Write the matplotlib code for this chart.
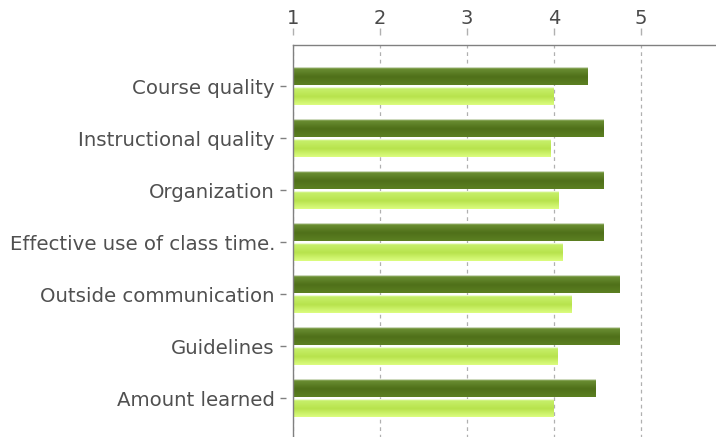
import numpy as np
import matplotlib
matplotlib.use("Agg")
import matplotlib.pyplot as plt

categories = ["Course quality", "Instructional quality", "Organization",
              "Effective use of class time.", "Outside communication",
              "Guidelines", "Amount learned"]
series_dark = [4.38, 4.57, 4.57, 4.57, 4.75, 4.75, 4.47]
series_light = [3.99, 3.96, 4.05, 4.10, 4.20, 4.04, 3.99]
x_ticks = [1, 2, 3, 4, 5]

fig = plt.figure(figsize=(7.16, 4.37), dpi=100)
ax = fig.add_axes([293/716, -0.005, 1 - 293/716, 1 - 45/437 + 0.005])

n = len(categories)
y = np.arange(n)
h = 0.35
off = 0.19

def profile(top_line, hi, c0, cm, c1, rows=36):
    arr = np.zeros((rows, 1, 3))
    arr[0:2, 0] = top_line
    arr[2:4, 0] = hi
    body = rows - 4
    for i in range(body):
        t = i / (body - 1)
        if t < 0.5:
            u = t / 0.5
            c = np.array(c0) * (1 - u) + np.array(cm) * u
        else:
            u = (t - 0.5) / 0.5
            c = np.array(cm) * (1 - u) + np.array(c1) * u
        arr[4 + i, 0] = c
    return arr

dark_img = profile((0.50, 0.58, 0.42), (0.90, 0.93, 0.85),
                   (0.42, 0.56, 0.20), (0.31, 0.44, 0.10), (0.36, 0.50, 0.13))
light_img = profile((0.80, 0.90, 0.62), (0.97, 1.0, 0.90),
                    (0.78, 0.94, 0.42), (0.72, 0.89, 0.30), (0.86, 0.99, 0.50))

def draw(vals, pos, img):
    bars = ax.barh(pos, np.array(vals) - 1, left=1, height=h,
                   color="none", edgecolor="none", zorder=3)
    for b, v, p in zip(bars, vals, pos):
        im = ax.imshow(img, extent=[1, v, p + h/2, p - h/2], origin="upper",
                       aspect="auto", interpolation="bilinear", zorder=3)
        im.set_clip_path(b)

draw(series_dark, y - off, dark_img)
draw(series_light, y + off, light_img)

ax.set_xlim(1, 5.86)
ax.set_ylim(6.79, -0.79)
ax.set_aspect("auto")

ax.xaxis.tick_top()
ax.set_xticks(x_ticks)
ax.set_xticklabels([str(t) for t in x_ticks])
ax.set_yticks(y)
ax.set_yticklabels(categories)

for s in ["right", "bottom"]:
    ax.spines[s].set_visible(False)
ax.spines["left"].set_position(("outward", 5))
ax.spines["top"].set_position(("outward", 7))
ax.spines["left"].set_visible(False)
ax.spines["top"].set_visible(False)

ax.axvline(1, color="#808080", lw=1.0, zorder=4, clip_on=False)
ax.axhline(-0.79, color="#808080", lw=1.0, zorder=4, clip_on=False)

ax.tick_params(axis="x", length=5, width=1, color="#b0b0b0", pad=0.5,
               labelsize=14, labelcolor="#4a4a4a")
ax.tick_params(axis="y", length=4, width=1, color="#808080", pad=4,
               labelsize=14.2, labelcolor="#505050")

ax.grid(axis="x", color="#b0b0b0", linestyle=(0, (3, 3)), lw=0.9, zorder=1)
ax.set_axisbelow(True)

fig.savefig("out.png", dpi=100)
